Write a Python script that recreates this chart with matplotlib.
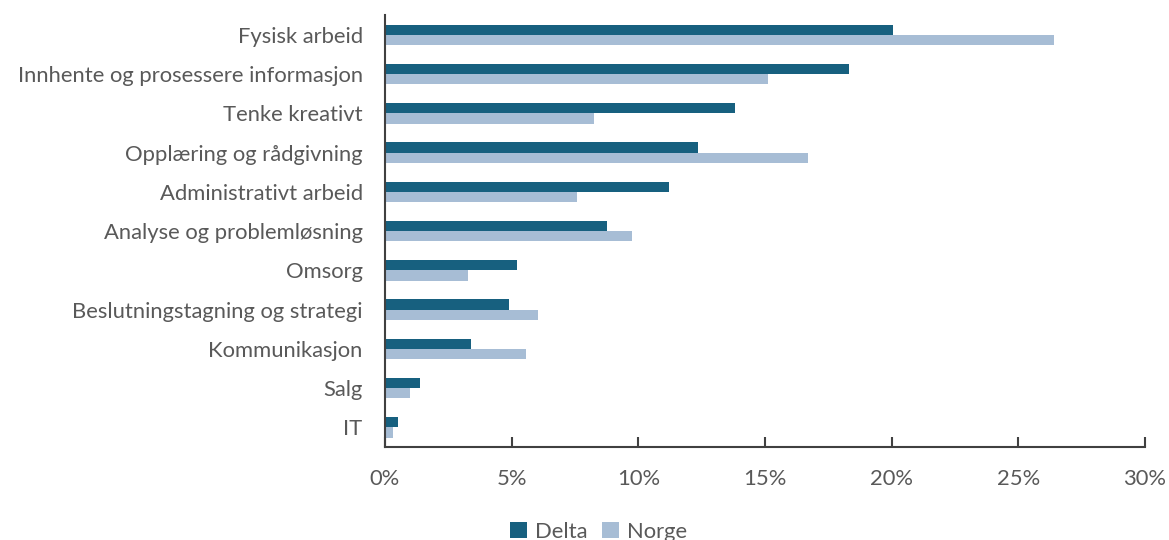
import matplotlib
matplotlib.use("Agg")
import matplotlib.pyplot as plt
import numpy as np

plt.rcParams['font.family'] = ['Lato', 'DejaVu Sans']

kategorier = ['Fysisk arbeid', 'Innhente og prosessere informasjon', 'Tenke kreativt',
              'Opplæring og rådgivning', 'Administrativt arbeid', 'Analyse og problemløsning',
              'Omsorg', 'Beslutningstagning og strategi', 'Kommunikasjon', 'Salg', 'IT']
delta = [20.05, 18.3, 13.8, 12.36, 11.2, 8.76, 5.2, 4.9, 3.4, 1.38, 0.51]
norge = [26.4, 15.1, 8.25, 16.7, 7.58, 9.75, 3.28, 6.04, 5.57, 0.99, 0.32]

farge_delta = '#17607F'
farge_norge = '#A7BDD5'
tekst = '#595959'
fs = 15.8

fig = plt.figure(figsize=(11.69, 5.40), dpi=100)
ax = fig.add_axes([0.3293, 0.172, 0.6502, 0.800])

y = np.arange(len(kategorier))
h = 0.26
ax.barh(y - h / 2, delta, height=h, color=farge_delta, label='Delta')
ax.barh(y + h / 2, norge, height=h, color=farge_norge, label='Norge')

ax.set_ylim(len(kategorier) - 0.5, -0.5)
ax.set_xlim(0, 30)
ax.set_yticks(y)
ax.set_yticklabels(kategorier, fontsize=fs, color=tekst)
ax.set_xticks(np.arange(0, 31, 5))
ax.set_xticklabels([f'{v}%' for v in range(0, 31, 5)], fontsize=fs, color=tekst)
ax.tick_params(axis='y', length=0, pad=16)
ax.tick_params(axis='x', direction='in', length=7, width=1.5, color='#404040', pad=16)

for s in ['top', 'right']:
    ax.spines[s].set_visible(False)
for s in ['left', 'bottom']:
    ax.spines[s].set_color('#404040')
    ax.spines[s].set_linewidth(1.5)

leg = fig.legend(loc='lower center', bbox_to_anchor=(0.512, -0.04), ncol=2, frameon=False,
                 fontsize=fs, handlelength=0.75, handleheight=0.75, handletextpad=0.35,
                 columnspacing=0.7)
for t in leg.get_texts():
    t.set_color(tekst)

fig.savefig('out.png', dpi=100)
